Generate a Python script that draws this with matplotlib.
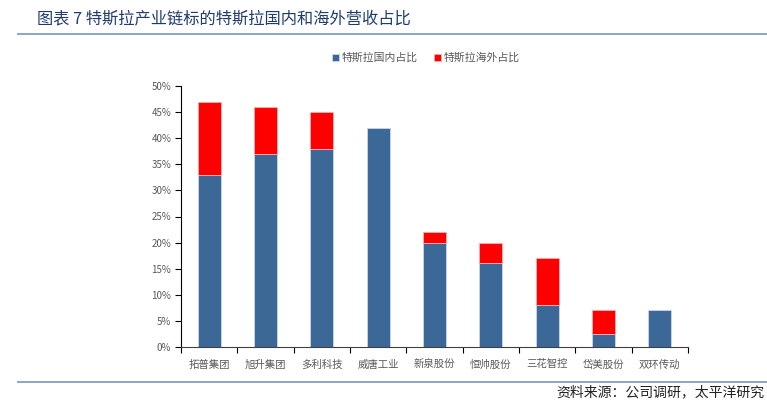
import numpy as np
import matplotlib.pyplot as plt
from matplotlib.lines import Line2D
from matplotlib.ticker import FuncFormatter, FixedLocator

plt.rcParams['font.family'] = ['Noto Sans CJK SC', 'DejaVu Sans']

companies = ['拓普集团', '旭升集团', '多利科技', '威唐工业', '新泉股份',
             '恒帅股份', '三花智控', '岱美股份', '双环传动']
domestic = [33, 37, 38, 42, 20, 16, 8, 2.5, 7]
overseas = [14, 9, 7, 0, 2, 4, 9, 4.5, 0]

blue = '#3c6897'
red = '#ff0000'
gray = '#595959'

fig = plt.figure(figsize=(7.67, 4.03), dpi=100)
ax = fig.add_axes([181/767, 1-347/403, (688-181)/767, (347-86)/403])

x = np.arange(len(companies))
ax.bar(x, domestic, width=0.41, color=blue, edgecolor='#c9d7e8', linewidth=0.6,
       label='特斯拉国内占比')
# no outline on the empty overseas segments
lw_over = [0.6 if v > 0 else 0 for v in overseas]
ax.bar(x, overseas, width=0.41, bottom=domestic, color=red, edgecolor='#ffb0b0',
       linewidth=lw_over, label='特斯拉海外占比')

ax.set_xlim(-0.5, len(companies) - 0.5)
ax.set_ylim(0, 50)
ax.set_yticks(np.arange(0, 51, 5))
ax.yaxis.set_major_formatter(FuncFormatter(lambda v, p: f'{v:.0f}%'))
ax.tick_params(axis='y', labelsize=7, colors='black', labelcolor=gray,
               length=4, width=0.8, pad=3)

ax.set_xticks(x)
ax.set_xticklabels(companies)
ax.xaxis.set_minor_locator(FixedLocator(np.arange(-0.5, len(companies), 1)))
ax.tick_params(axis='x', which='major', length=0, labelsize=7.5, labelcolor=gray, pad=9)
ax.tick_params(axis='x', which='minor', length=4, width=0.8, color='black')

for s in ['top', 'right']:
    ax.spines[s].set_visible(False)
ax.spines['left'].set_linewidth(0.8)
ax.spines['bottom'].set_linewidth(0.8)
ax.spines['bottom'].set_color('#404040')

leg = fig.legend(loc='center', bbox_to_anchor=(426/767, 1-58/403), ncol=2,
                 frameon=False, fontsize=7.8, handlelength=0.6, handleheight=0.6,
                 handletextpad=0.3, columnspacing=1.5)
for t in leg.get_texts():
    t.set_color(gray)

# title and rules
fig.text(37/767, 1-19/403, '图表 7 特斯拉产业链标的特斯拉国内和海外营收占比',
         fontsize=11.7, color='#1f3c6e', va='center', ha='left')
fig.add_artist(Line2D([18/767, 1], [1-34/403, 1-34/403], color='#7f9fc6', lw=1.3))
fig.add_artist(Line2D([18/767, 1], [1-382/403, 1-382/403], color='#7f9fc6', lw=1.3))
fig.text(764/767, 1-392/403, '资料来源：公司调研，太平洋研究', fontsize=10,
         color='#222222', va='center', ha='right', style='italic')

fig.savefig('out.png', dpi=100)
